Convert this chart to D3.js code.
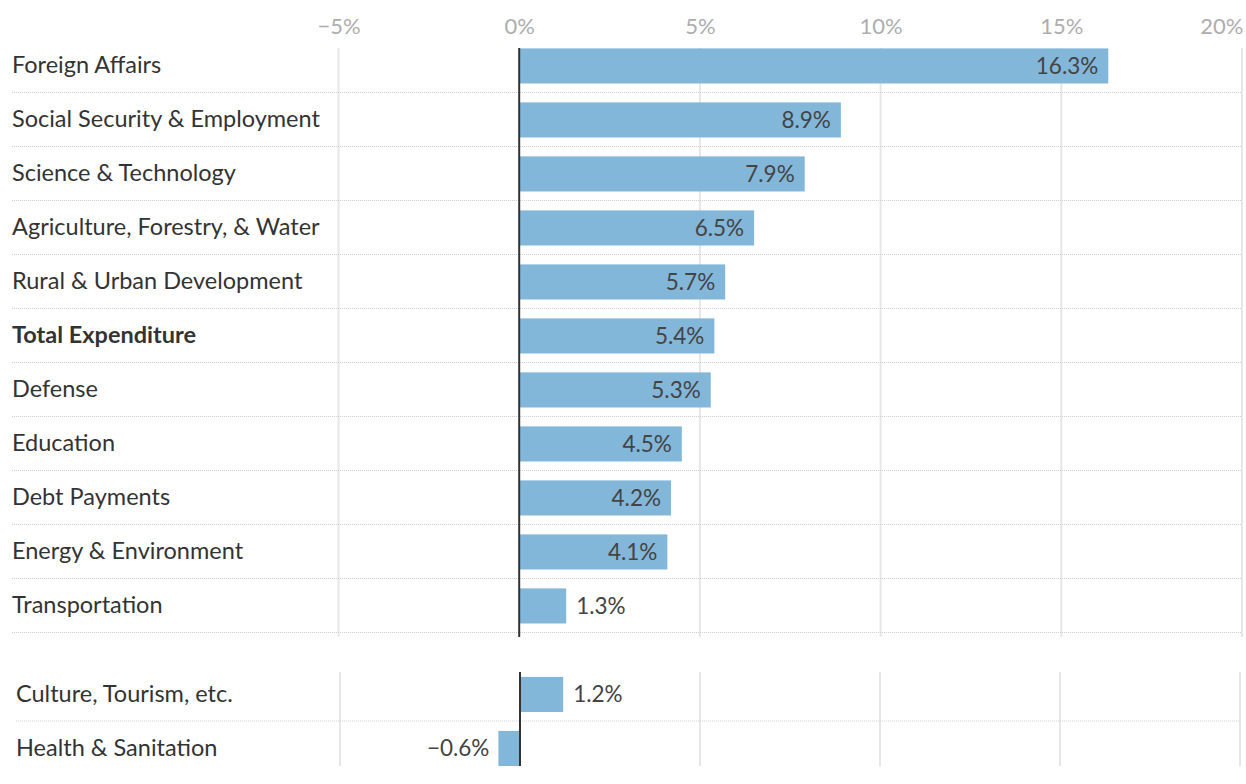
<!DOCTYPE html>
<html>
<head>
<meta charset="utf-8">
<script src="https://cdn.jsdelivr.net/npm/d3@7"></script>
<style>
  html, body { margin: 0; padding: 0; background: #fff; }
  svg { display: block; font-family: Lato, "Noto Sans", sans-serif; }
</style>
</head>
<body>
<svg id="chart" width="1246" height="784"></svg>
<script>
// Year-on-year change in budget expenditure, by category (%)
const mainCategories = [
  "Foreign Affairs",
  "Social Security & Employment",
  "Science & Technology",
  "Agriculture, Forestry, & Water",
  "Rural & Urban Development",
  "Total Expenditure",
  "Defense",
  "Education",
  "Debt Payments",
  "Energy & Environment",
  "Transportation"
];
const mainValues = [16.3, 8.9, 7.9, 6.5, 5.7, 5.4, 5.3, 4.5, 4.2, 4.1, 1.3];

const extraCategories = ["Culture, Tourism, etc.", "Health & Sanitation"];
const extraValues = [1.2, -0.6];

const tickValues = [-5, 0, 5, 10, 15, 20];
const highlighted = "Total Expenditure";

const barColor = "#82b7da";
const fmt = d3.format(".1f");
const tickFmt = v => d3.format("d")(v) + "%";

const svg = d3.select("#chart");

function drawPanel(opts) {
  const { categories, values, x0, x1, top, rowH, labelX, gridTop, gridBottom, lastSeparator, showTicks } = opts;
  const x = d3.scaleLinear().domain([-5, 20]).range([x0, x1]);
  const y = d3.scaleBand().domain(categories).range([top, top + rowH * categories.length]).paddingInner(0.35).paddingOuter(0.175).align(0.55);
  const rows = d3.scaleBand().domain(categories).range([top, top + rowH * categories.length]);

  const g = svg.append("g");

  // vertical gridlines
  g.append("g").selectAll("line").data(tickValues.filter(t => t !== 0)).join("line")
    .attr("x1", d => x(d)).attr("x2", d => x(d))
    .attr("y1", gridTop).attr("y2", gridBottom)
    .attr("stroke", "#e6e6e6").attr("stroke-width", 2);

  // row separators
  const seps = lastSeparator ? categories : categories.slice(0, -1);
  g.append("g").selectAll("line").data(seps).join("line")
    .attr("x1", labelX).attr("x2", x1)
    .attr("y1", d => rows(d) + rows.bandwidth() + 0.5)
    .attr("y2", d => rows(d) + rows.bandwidth() + 0.5)
    .attr("stroke", "#cfcfcf").attr("stroke-width", 1)
    .attr("stroke-dasharray", "1,1");

  if (showTicks) {
    const axis = d3.axisTop(x).tickValues(tickValues).tickFormat(tickFmt).tickSize(0).tickPadding(0);
    const ax = g.append("g").attr("transform", "translate(0,34)").call(axis);
    ax.select(".domain").remove();
    ax.selectAll("text")
      .attr("fill", "#adadad")
      .style("font-family", "Lato, 'Noto Sans', sans-serif")
      .style("font-size", "22px")
      .attr("dy", 0);
    // keep the rightmost label inside the frame
    ax.selectAll(".tick").filter(d => d === 20).select("text").attr("text-anchor", "end").attr("dx", 1);
  }

  // bars
  const data = categories.map((c, i) => ({ c, v: values[i] }));
  g.append("g").selectAll("rect").data(data).join("rect")
    .attr("x", d => x(Math.min(0, d.v)))
    .attr("width", d => Math.abs(x(d.v) - x(0)))
    .attr("y", d => y(d.c))
    .attr("height", y.bandwidth())
    .attr("fill", barColor);

  // zero line
  g.append("line")
    .attr("x1", x(0)).attr("x2", x(0))
    .attr("y1", gridTop).attr("y2", gridBottom)
    .attr("stroke", "#333").attr("stroke-width", 2);

  // category labels
  g.append("g").selectAll("text").data(data).join("text")
    .attr("x", labelX)
    .attr("y", d => rows(d.c) + rows.bandwidth() / 2)
    .attr("dy", "0.35em")
    .attr("fill", "#333")
    .style("font-size", "23.5px")
    .style("font-weight", d => d.c === highlighted ? 700 : 400)
    .text(d => d.c);

  // value labels
  g.append("g").selectAll("text").data(data).join("text")
    .attr("x", d => {
      const w = Math.abs(x(d.v) - x(0));
      if (d.v < 0) return x(d.v) - 9;
      return w > 80 ? x(d.v) - 10 : x(d.v) + 10;
    })
    .attr("text-anchor", d => {
      const w = Math.abs(x(d.v) - x(0));
      if (d.v < 0) return "end";
      return w > 80 ? "end" : "start";
    })
    .attr("y", d => y(d.c) + y.bandwidth() / 2)
    .attr("dy", "0.35em")
    .attr("fill", "#444")
    .style("font-size", "22.5px")
    .text(d => fmt(d.v).replace("-", "\u2212") + "%");
}

drawPanel({
  categories: mainCategories, values: mainValues,
  x0: 338.5, x1: 1242, top: 38, rowH: 54, labelX: 12,
  gridTop: 48, gridBottom: 637, lastSeparator: true, showTicks: true
});

drawPanel({
  categories: extraCategories, values: extraValues,
  x0: 340, x1: 1240, top: 666.5, rowH: 54, labelX: 16,
  gridTop: 672, gridBottom: 766, lastSeparator: false, showTicks: false
});
</script>
</body>
</html>
